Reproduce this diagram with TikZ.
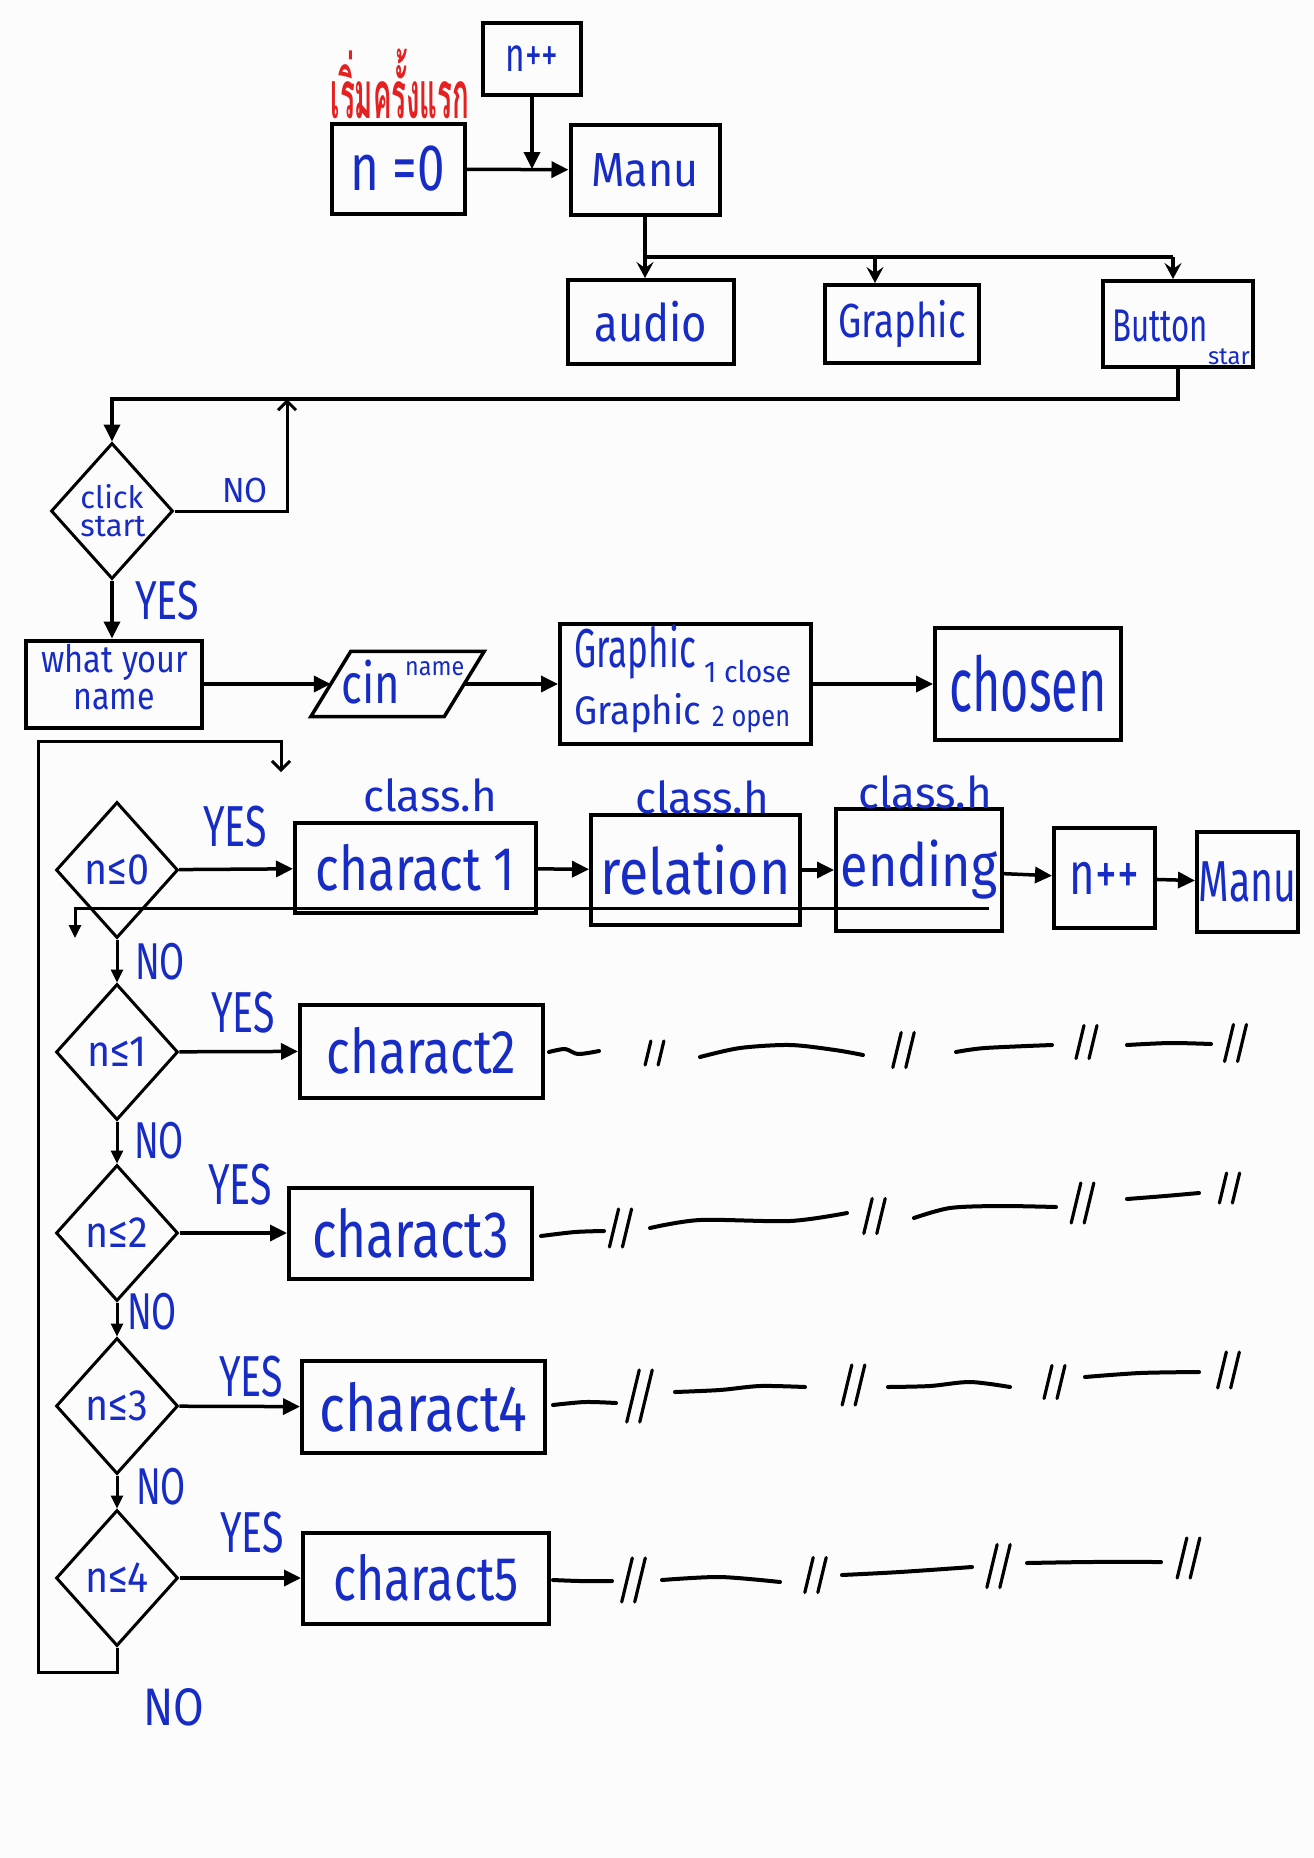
\documentclass[tikz,border=0pt]{standalone}
\usepackage{fontspec}
\usepackage{graphicx}
\setmainfont{Fira Sans}
\newfontfamily\thaifont[Script=Thai]{Loma}
\usetikzlibrary{arrows.meta,shapes.geometric,calc}
\definecolor{ink}{RGB}{22,44,196}
\definecolor{redink}{RGB}{228,32,32}
\definecolor{paper}{RGB}{252,252,252}
% handwritten-looking label: size, horizontal squeeze, text
\newcommand\hw[3]{{\fontsize{#1}{#1}\selectfont\scalebox{#2}[1]{#3}}}
% a pair of slanted break marks: centre x, centre y, height
\newcommand\twoslash[3]{\draw[sq, line width=3.2bp] ({#1-8-0.12*#3},{#2+0.5*#3}) -- ({#1-8+0.12*#3},{#2-0.5*#3}) ({#1+5-0.12*#3},{#2+0.5*#3}) -- ({#1+5+0.12*#3},{#2-0.5*#3});}

\begin{document}
\begin{tikzpicture}[x=1bp,y=-1bp,
  bx/.style={draw, line width=4bp, inner sep=0pt, text=ink},
  dm/.style={draw, diamond, line width=3bp, inner sep=0pt, minimum width=122bp, minimum height=136bp},
  lbl/.style={text=ink, inner sep=0pt},
  ln/.style={line width=3.5bp},
  arr/.style={line width=3.5bp, -{Triangle[length=17bp,width=16bp]}},
  sarr/.style={line width=3bp, -{Triangle[length=13bp,width=12bp]}},
  varr/.style={line width=3.5bp, -{Stealth[length=16bp,width=17bp,inset=6bp]}},
  oarr/.style={line width=3bp, -{Straight Barb[length=9bp,width=18bp]}},
  sq/.style={line width=4bp, line cap=round, line join=round}]
\fill[paper] (0,0) rectangle (1314,1858);
\useasboundingbox (0,0) rectangle (1314,1858);

% ---------- start ----------
\node[text=redink, anchor=base, inner sep=0pt] (first) at (400,118)
  {\thaifont\bfseries\fontsize{66}{66}\selectfont\scalebox{0.42}[1]{เริ่มครั้งแรก}};
\node[bx, minimum width=98bp, minimum height=72bp] (npp0) at (532,59) {\hw{48}{0.7}{n++}};
\node[bx, minimum width=133bp, minimum height=90bp] (n0) at (398,169) {\hw{66}{0.75}{n =0}};
\node[bx, minimum width=149bp, minimum height=90bp] (manu) at (645,170) {\hw{48}{0.9}{Manu}};
\coordinate (j0) at (532,169);
\draw[arr] (n0) -- (manu);
\draw[arr] (npp0) -- (j0);

% ---------- menu items ----------
\node[bx, minimum width=166bp, minimum height=84bp] (audio) at (651,322) {\hw{52}{0.84}{audio}};
\node[bx, minimum width=154bp, minimum height=78bp] (graphic) at (902,324) {\hw{48}{0.77}{Graphic}};
\node[bx, minimum width=150bp, minimum height=86bp] (button) at (1178,324) {};
\node[lbl] (buttont) at (1160,326) {\hw{46}{0.68}{Button}};
\node[lbl] (start) at (1229,357) {\hw{24}{1}{star}};
\coordinate (bus) at (645,257);
\coordinate (gtap) at (875,257);
\coordinate (btap) at (1173,257);
\draw[ln] (manu.south) -- (bus) -- (btap);
\draw[varr] (bus) -- (bus |- audio.north);
\draw[varr] (gtap) -- (gtap |- graphic.north);
\draw[varr] (btap) -- (btap |- button.north);

% ---------- click start ----------
\node[dm] (click) at (112,511) {};
\node[lbl] (clickt) at (112,497) {\hw{31}{1}{click}};
\node[lbl] (startt) at (113,527) {\hw{31}{1}{start}};
\coordinate (ret) at (112,399);
\coordinate (noup) at (287,399);
\draw[arr] (button.south) |- (ret) -- (click.north);
\draw[oarr] (click.east) -| (noup);
\node[lbl] (no0) at (245,490) {\hw{35}{0.95}{NO}};
\node[lbl] (yes0) at (167,601) {\hw{55}{0.72}{YES}};

% ---------- name input ----------
\node[bx, minimum width=176bp, minimum height=87bp] (wyn) at (114,684) {};
\node[lbl] (wyn1) at (115,662) {\hw{38}{0.86}{what your}};
\node[lbl] (wyn2) at (114,700) {\hw{38}{0.85}{name}};
\draw[arr] (click.south) -- (click.south |- wyn.north);

% input parallelogram: the node holds the anchors, the outline is slanted
\node[inner sep=0pt, minimum width=133bp, minimum height=65bp] (cin) at (397.5,684) {};
\draw[line width=3.5bp, line join=miter]
  ($(cin.south west)+(-20,0)$) -- ($(cin.north west)+(20,0)$) --
  ($(cin.north east)+(20,0)$) -- ($(cin.south east)+(-20,0)$) -- cycle;
\node[lbl, anchor=base west] (cint) at (341,703) {\hw{56}{0.78}{cin}};
\node[lbl, anchor=base west] (cinsup) at (405,675) {\hw{26}{0.9}{name}};

\node[bx, minimum width=251bp, minimum height=120bp] (gr12) at (685.5,684) {};
\node[lbl, anchor=base west] (g1) at (574,667) {\hw{55}{0.64}{Graphic}};
\node[lbl, anchor=base west] (g1b) at (704,682) {\hw{30}{0.95}{1 close}};
\node[lbl, anchor=base west] (g2) at (574,724) {\hw{40}{0.92}{Graphic}};
\node[lbl, anchor=base west] (g2b) at (712,726) {\hw{30}{0.85}{2 open}};

\node[bx, minimum width=186bp, minimum height=112bp] (chosen) at (1028,684) {\hw{76}{0.64}{chosen}};
\draw[arr] (wyn) -- (cin);
\draw[arr] (cin) -- (gr12);
\draw[arr] (gr12) -- (chosen);

% ---------- character selection ----------
\node[dm] (d0) at (117,870) {};
\node[dm] (d1) at (117,1052) {};
\node[dm] (d2) at (117,1233) {};
\node[dm] (d3) at (117,1406) {};
\node[dm] (d4) at (117,1578) {};
\node[lbl] (d0t) at (117,870) {\hw{44}{0.9}{n≤0}};
\node[lbl] (d1t) at (117,1052) {\hw{44}{0.9}{n≤1}};
\node[lbl] (d2t) at (117,1233) {\hw{44}{0.9}{n≤2}};
\node[lbl] (d3t) at (117,1406) {\hw{44}{0.9}{n≤3}};
\node[lbl] (d4t) at (117,1578) {\hw{44}{0.9}{n≤4}};

\node[bx, minimum width=241bp, minimum height=90bp] (c1) at (415.5,868) {\hw{62}{0.8}{charact 1}};
\node[bx, minimum width=209bp, minimum height=110bp] (rel) at (695.5,870) {\hw{64}{0.84}{relation}};
\node[bx, minimum width=166bp, minimum height=122bp] (ending) at (919,870) {\hw{60}{0.84}{ending}};
\node[bx, minimum width=101bp, minimum height=100bp] (npp) at (1104.5,878) {\hw{60}{0.73}{n++}};
\node[bx, minimum width=101bp, minimum height=100bp] (manu2) at (1247.5,882) {\hw{58}{0.68}{Manu}};
\node[lbl] (cl1) at (430,795) {\hw{44}{1}{class.h}};
\node[lbl] (cl2) at (702,797) {\hw{44}{1}{class.h}};
\node[lbl] (cl3) at (925,792) {\hw{44}{1}{class.h}};

\node[bx, minimum width=243bp, minimum height=93bp] (c2) at (421.5,1051) {\hw{62}{0.8}{charact2}};
\node[bx, minimum width=243bp, minimum height=91bp] (c3) at (410.5,1233) {\hw{66}{0.78}{charact3}};
\node[bx, minimum width=243bp, minimum height=92bp] (c4) at (423.5,1407) {\hw{66}{0.82}{charact4}};
\node[bx, minimum width=246bp, minimum height=91bp] (c5) at (426,1578) {\hw{62}{0.78}{charact5}};

\draw[arr] (d0) -- (c1);
\draw[arr] (c1) -- (rel);
\draw[arr] (rel) -- (ending);
\draw[arr] (ending) -- (npp);
\draw[arr] (npp) -- (manu2);
\draw[arr] (d1) -- (c2);
\draw[arr] (d2) -- (c3);
\draw[arr] (d3) -- (c4);
\draw[arr] (d4) -- (c5);

\draw[sarr] (d0) -- (d1);
\draw[sarr] (d1) -- (d2);
\draw[sarr] (d2) -- (d3);
\draw[sarr] (d3) -- (d4);

% return line from the ending
\coordinate (bk0) at (989,908);
\coordinate (bk1) at (75,908);
\coordinate (bk2) at (75,938);
\draw[sarr] (bk0) -- (bk1) -- (bk2);

% loop back to the top of the selection
\coordinate (lp0) at (117,1672);
\coordinate (lp1) at (38,1672);
\coordinate (lp2) at (38,741);
\coordinate (lp3) at (281,741);
\coordinate (lp4) at (281,772);
\draw[oarr] (d4.south) -- (lp0) -- (lp1) -- (lp2) -- (lp3) -- (lp4);

% YES / NO labels
\node[lbl] (yes1) at (235,827) {\hw{58}{0.68}{YES}};
\node[lbl] (yes2) at (243,1013) {\hw{58}{0.68}{YES}};
\node[lbl] (yes3) at (240,1185) {\hw{58}{0.68}{YES}};
\node[lbl] (yes4) at (251,1377) {\hw{58}{0.68}{YES}};
\node[lbl] (yes5) at (252,1533) {\hw{58}{0.68}{YES}};
\node[lbl] (no1) at (160,962) {\hw{52}{0.7}{NO}};
\node[lbl] (no2) at (159,1141) {\hw{52}{0.7}{NO}};
\node[lbl] (no3) at (152,1312) {\hw{52}{0.7}{NO}};
\node[lbl] (no4) at (161,1487) {\hw{52}{0.7}{NO}};
\node[lbl] (no5) at (174,1707) {\hw{53}{0.84}{NO}};

% continuation marks after charact2..5
\draw[sq] plot[smooth] coordinates {(549,1052)(565,1049)(578,1054)(599,1051)};
\twoslash{656}{1053}{24}
\draw[sq] plot[smooth] coordinates {(700,1057)(740,1048)(790,1045)(835,1050)(863,1055)};
\twoslash{905}{1050}{35}
\draw[sq] plot[smooth] coordinates {(956,1052)(985,1048)(1052,1045)};
\twoslash{1088}{1042}{33}
\draw[sq] plot[smooth] coordinates {(1127,1045)(1170,1043)(1211,1044)};
\twoslash{1237}{1043}{37}

\draw[sq] plot[smooth] coordinates {(541,1236)(575,1232)(604,1231)};
\twoslash{622}{1228}{38}
\draw[sq] plot[smooth] coordinates {(650,1228)(700,1220)(790,1221)(847,1213)};
\twoslash{876}{1216}{35}
\draw[sq] plot[smooth] coordinates {(914,1218)(950,1208)(1000,1206)(1056,1207)};
\twoslash{1084}{1203}{40}
\draw[sq] plot[smooth] coordinates {(1127,1199)(1165,1196)(1199,1193)};
\twoslash{1231}{1188}{30}

\draw[sq] plot[smooth] coordinates {(553,1405)(585,1402)(616,1403)};
\twoslash{641}{1396}{52}
\draw[sq] plot[smooth] coordinates {(675,1392)(720,1390)(760,1386)(805,1387)};
\twoslash{855}{1385}{40}
\draw[sq] plot[smooth] coordinates {(888,1387)(930,1386)(970,1382)(1010,1387)};
\twoslash{1056}{1382}{33}
\draw[sq] plot[smooth] coordinates {(1085,1377)(1140,1373)(1199,1372)};
\twoslash{1230}{1370}{36}

\draw[sq] plot[smooth] coordinates {(553,1580)(580,1581)(612,1581)};
\twoslash{635}{1580}{44}
\draw[sq] plot[smooth] coordinates {(662,1580)(720,1577)(780,1582)};
\twoslash{817}{1575}{35}
\draw[sq] plot[smooth] coordinates {(842,1575)(900,1572)(972,1567)};
\twoslash{1000}{1566}{43}
\draw[sq] plot[smooth] coordinates {(1027,1563)(1090,1562)(1161,1562)};
\twoslash{1190}{1558}{40}
\end{tikzpicture}
\end{document}
